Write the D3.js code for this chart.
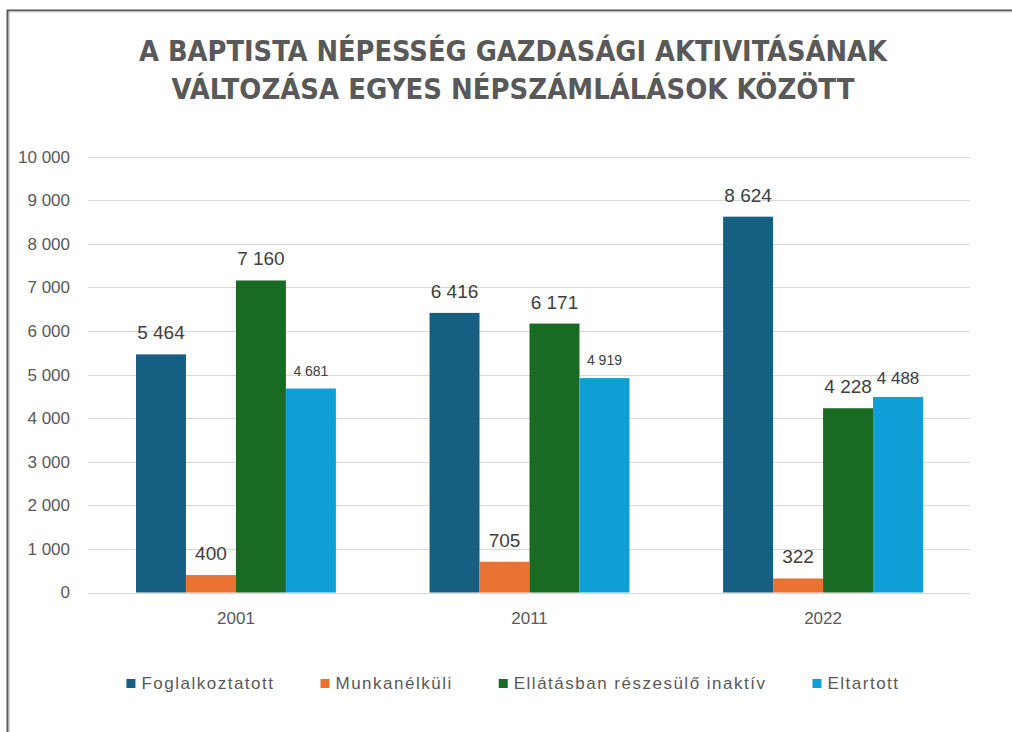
<!DOCTYPE html>
<html>
<head>
<meta charset="utf-8">
<script src="https://cdn.jsdelivr.net/npm/d3@7"></script>
<style>
  body { margin: 0; background: #fff; }
  svg { display: block; }
</style>
</head>
<body>
<div id="chart"></div>
<script>
// chart data
const years = ["2001", "2011", "2022"];
const seriesNames = ["Foglalkoztatott", "Munkanélküli", "Ellátásban részesülő inaktív", "Eltartott"];
const foglalkoztatott = [5464, 6416, 8624];
const munkanelkuli = [400, 705, 322];
const ellatasban = [7160, 6171, 4228];
const eltartott = [4681, 4919, 4488];
const yTicks = [0, 1000, 2000, 3000, 4000, 5000, 6000, 7000, 8000, 9000, 10000];
const titleLines = ["A BAPTISTA NÉPESSÉG GAZDASÁGI AKTIVITÁSÁNAK", "VÁLTOZÁSA EGYES NÉPSZÁMLÁLÁSOK KÖZÖTT"];

const colors = ["#156082", "#e97132", "#196b24", "#0f9ed5"];
const seriesValues = [foglalkoztatott, munkanelkuli, ellatasban, eltartott];

const W = 1012, H = 732;
const svg = d3.select("#chart").append("svg")
    .attr("width", W)
    .attr("height", H);

// frame lines on the left and top
svg.append("path").attr("d", "M7.5,732V10.5H1012").attr("fill", "none").attr("stroke", "#5a5a5a").attr("stroke-width", 2);
svg.append("path").attr("d", "M9.5,732V12H1012").attr("fill", "none").attr("stroke", "#d6d6d6").attr("stroke-width", 1);

// title
svg.selectAll(".title")
    .data(titleLines)
    .enter()
    .append("text")
    .attr("x", 513)
    .attr("y", (d, i) => 61 + i * 38)
    .attr("text-anchor", "middle")
    .attr("font-family", "'Liberation Sans Narrow', 'DejaVu Sans Condensed', Arial, sans-serif")
    .attr("font-weight", "bold")
    .attr("font-size", 29)
    .attr("fill", "#595959")
    .attr("textLength", (d, i) => i === 0 ? 748 : 683)
    .attr("lengthAdjust", "spacingAndGlyphs")
    .text(d => d);

// scales
const x0 = d3.scaleBand()
    .domain(years)
    .range([89, 970])
    .paddingInner(0.319)
    .paddingOuter(0.16);

const x1 = d3.scaleBand()
    .domain(seriesNames)
    .range([0, x0.bandwidth()]);

const y = d3.scaleLinear()
    .domain([0, 10000])
    .range([592.5, 156.7]);

const fmt = v => d3.format(",")(v).replace(/,/g, " ");

// gridlines
svg.append("g")
    .selectAll("line")
    .data(yTicks)
    .enter()
    .append("line")
    .attr("x1", 88)
    .attr("x2", 970)
    .attr("y1", d => Math.round(y(d)) + 0.5)
    .attr("y2", d => Math.round(y(d)) + 0.5)
    .attr("stroke", "#d9d9d9")
    .attr("stroke-width", 1);

// y axis labels
const yAxis = svg.append("g")
    .attr("transform", "translate(70,0)")
    .call(d3.axisLeft(y).tickValues(yTicks).tickSize(0).tickPadding(0).tickFormat(fmt));
yAxis.select(".domain").remove();
yAxis.selectAll("text")
    .attr("font-family", "'Liberation Sans', Arial, sans-serif")
    .attr("font-size", 17)
    .attr("fill", "#595959");

// x axis labels
const xAxis = svg.append("g")
    .attr("transform", "translate(0,612)")
    .call(d3.axisBottom(x0).tickSize(0).tickPadding(0));
xAxis.select(".domain").remove();
xAxis.selectAll("text")
    .attr("font-family", "'Liberation Sans', Arial, sans-serif")
    .attr("font-size", 17)
    .attr("fill", "#595959");

// flatten to bar records
const bars = [];
years.forEach((yr, i) => {
    seriesNames.forEach((s, j) => {
        bars.push({ year: yr, series: s, value: seriesValues[j][i], color: colors[j] });
    });
});

svg.append("g")
    .selectAll("rect")
    .data(bars)
    .enter()
    .append("rect")
    .attr("x", d => x0(d.year) + x1(d.series))
    .attr("y", d => y(d.value))
    .attr("width", x1.bandwidth())
    .attr("height", d => y(0) - y(d.value))
    .attr("fill", d => d.color);

// value labels - the Eltartott labels are smaller in the source
function labelSize(d) {
    if (d.series === "Eltartott") return d.year === "2022" ? 17 : 14;
    return 19;
}

svg.append("g")
    .selectAll("text")
    .data(bars)
    .enter()
    .append("text")
    .attr("x", d => x0(d.year) + x1(d.series) + x1.bandwidth() / 2)
    .attr("y", d => y(d.value) - (labelSize(d) < 19 ? 13 : 15))
    .attr("text-anchor", "middle")
    .attr("font-family", "'Liberation Sans', Arial, sans-serif")
    .attr("font-size", labelSize)
    .attr("fill", "#404040")
    .text(d => fmt(d.value));

// legend
const legend = svg.append("g").attr("transform", "translate(0,689)");
const items = legend.selectAll("g")
    .data(seriesNames)
    .enter()
    .append("g");

items.append("rect")
    .attr("y", -10)
    .attr("width", 9)
    .attr("height", 9)
    .attr("fill", (d, i) => colors[i]);

items.append("text")
    .attr("x", 15)
    .attr("font-family", "'Liberation Sans', Arial, sans-serif")
    .attr("font-size", 17)
    .attr("letter-spacing", 1.5)
    .attr("fill", "#595959")
    .text(d => d);

// lay legend out centered
const gap = 46;
const widths = [];
items.each(function () { widths.push(this.getBBox().width); });
const total = d3.sum(widths) + gap * (widths.length - 1);
let cx = 513 - total / 2;
items.attr("transform", (d, i) => {
    const t = "translate(" + cx + ",0)";
    cx += widths[i] + gap;
    return t;
});
</script>
</body>
</html>
